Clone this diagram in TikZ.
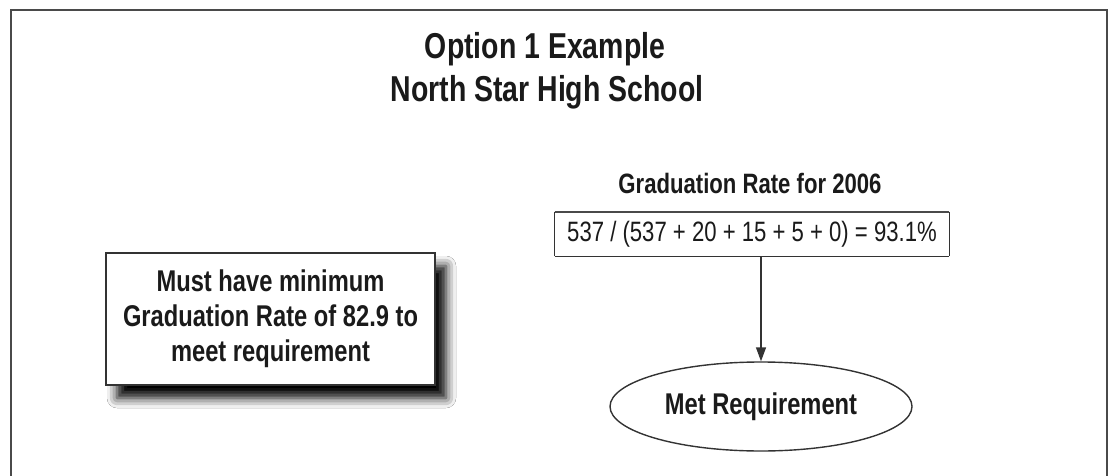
\documentclass[tikz,border=0pt]{standalone}
\usepackage{fontspec}
\setmainfont{Liberation Sans}[FakeStretch=0.79]
\usepackage{xcolor}
\usetikzlibrary{arrows.meta, positioning, shapes.geometric, shadows.blur}
\definecolor{inkOne}{HTML}{1A1A1A}
\definecolor{inkTwo}{HTML}{333333}
\definecolor{frameC}{HTML}{4A4A4A}
\tikzset{
  title/.style={font=\fontsize{18}{21.5}\selectfont\bfseries, text=inkOne, anchor=base},
  rulebox/.style={draw=inkTwo, line width=0.8pt, fill=white, align=center, text=inkOne,
    font=\fontsize{15}{17.5}\selectfont\bfseries, minimum width=164.5pt, minimum height=66pt,
    blur shadow={shadow xshift=5.5pt, shadow yshift=-6.5pt, shadow blur radius=5pt, shadow opacity=100}},
  calcbox/.style={text=inkOne, font=\fontsize{14}{17}\selectfont,
    minimum width=197pt, minimum height=22pt, inner sep=0pt},
  label/.style={font=\fontsize{14}{17}\selectfont\bfseries, text=inkOne, anchor=base},
  result/.style={ellipse, draw=inkTwo, line width=0.7pt, text=inkOne, font=\fontsize{15}{17.5}\selectfont\bfseries,
    minimum width=151pt, minimum height=44.5pt, inner sep=0pt},
  arr/.style={-{Triangle[length=7pt, width=5pt]}, draw=inkTwo, line width=0.7pt},
}
\begin{document}
\begin{tikzpicture}[x=0.5pt, y=-0.5pt]
  \useasboundingbox[fill=white] (0,0) rectangle (1108,476);
  % outer frame, open at the bottom
  \draw[frameC, line width=1.1pt] (11,476) -- (11,10) -- (1107,10) -- (1107,476);
  % heading
  \node[title] (titleA) at (545,59) {Option 1 Example};
  \node[title] (titleB) at (547,102) {North Star High School};
  % requirement
  \node[rulebox] (rule) at (270.5,319) {Must have minimum\\Graduation Rate of 82.9 to\\meet requirement};
  % rate calculation
  \node[calcbox] (calc) at (752,234) {537 / (537 + 20 + 15 + 5 + 0) = 93.1\%};
  \draw[frameC, line width=1.1pt] (calc.north west) -- (calc.north east);
  \draw[inkTwo, line width=0.8pt] (calc.south west) -- (calc.south east);
  \draw[inkTwo, line width=0.5pt] (calc.north west) -- (calc.south west) (calc.north east) -- (calc.south east);
  \node[label] (calcTitle) at (750,193) {Graduation Rate for 2006};
  \node[result] (met) at (761,406.5) {Met Requirement};
  \draw[arr] (met.north |- calc.south) -- (met.north);
\end{tikzpicture}
\end{document}
